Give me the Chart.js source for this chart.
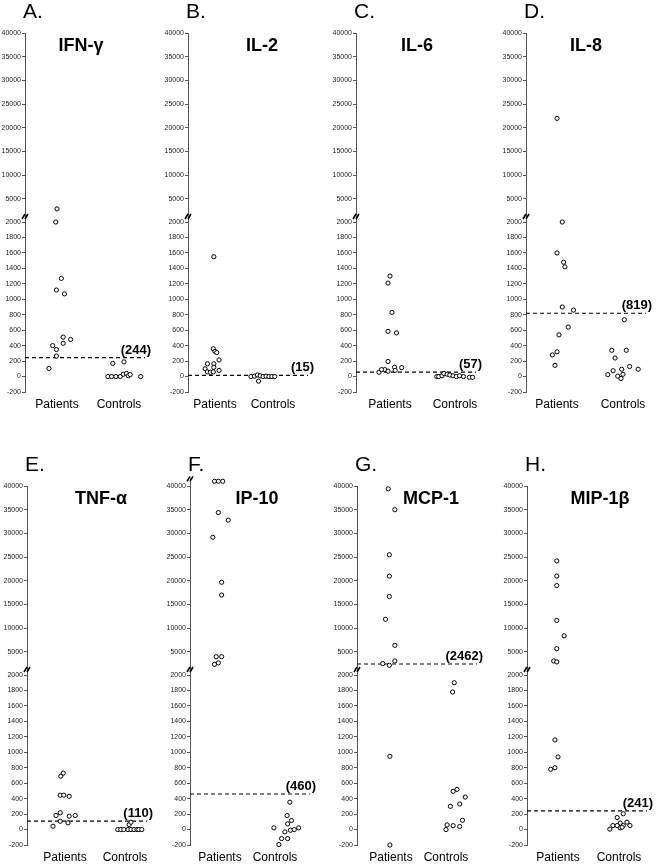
<!DOCTYPE html>
<html><head><meta charset="utf-8">
<script src="https://cdn.jsdelivr.net/npm/chart.js@4.4.0/dist/chart.umd.min.js"></script>
<style>
html,body{margin:0;padding:0;background:#fff;width:661px;height:865px;overflow:hidden;position:relative}
canvas{position:absolute}
</style></head><body>
<script>
// ---------- data ----------
const categories = ['Patients', 'Controls'];
const panelLetters = ['A.', 'B.', 'C.', 'D.', 'E.', 'F.', 'G.', 'H.'];
const cytokines = ['IFN-γ', 'IL-2', 'IL-6', 'IL-8', 'TNF-α', 'IP-10', 'MCP-1', 'MIP-1β'];
const cutoffs = [244, 15, 57, 819, 110, 460, 2462, 241];
const upperTicks = [5000, 10000, 15000, 20000, 25000, 30000, 35000, 40000];
const lowerTicks = [-200, 0, 200, 400, 600, 800, 1000, 1200, 1400, 1600, 1800, 2000];

const ifngPatients  = [2900, 2000, 1270, 1120, 1070, 510, 480, 400, 430, 350, 265, 105];
const ifngPatientsX = [1.00, 0.98, 1.07, 0.99, 1.12, 1.10, 1.22, 0.93, 1.10, 0.99, 0.99, 0.87];
const ifngControls  = [170, 190, 0, 0, 0, 0, 30, 40, 10, 25, 0];
const ifngControlsX = [1.90, 2.08, 1.82, 1.88, 1.95, 2.02, 2.07, 2.12, 2.15, 2.18, 2.35];

const il2Patients  = [1550, 360, 325, 310, 215, 165, 165, 120, 100, 80, 60, 55, 60];
const il2PatientsX = [0.98, 0.97, 1.00, 1.03, 1.07, 0.87, 0.98, 0.98, 0.83, 1.07, 0.87, 0.92, 0.97];
const il2Controls  = [0, 5, 20, 10, 0, 5, 0, 0, 0, -60];
const il2ControlsX = [1.62, 1.68, 1.73, 1.78, 1.83, 1.88, 1.93, 1.98, 2.03, 1.75];

const il6Patients  = [1300, 1210, 830, 585, 565, 195, 90, 55, 90, 70, 120, 80, 115];
const il6PatientsX = [1.00, 0.97, 1.03, 0.97, 1.10, 0.97, 0.92, 0.83, 0.87, 0.97, 1.07, 1.08, 1.18];
const il6Controls  = [0, 0, 10, 40, 30, 20, 10, 0, 10, 0, -10, -10];
const il6ControlsX = [1.72, 1.75, 1.80, 1.83, 1.88, 1.92, 1.97, 2.02, 2.07, 2.13, 2.22, 2.27];

const il8Patients  = [22000, 2000, 1600, 1480, 1420, 900, 860, 640, 540, 320, 280, 145];
const il8PatientsX = [1.00, 1.08, 1.00, 1.10, 1.12, 1.08, 1.25, 1.17, 1.03, 1.00, 0.93, 0.97];
const il8Controls  = [735, 340, 340, 240, 130, 95, 95, 75, 25, 5, 30, -25];
const il8ControlsX = [2.02, 1.83, 2.05, 1.88, 2.10, 2.23, 1.98, 1.85, 1.77, 1.92, 2.00, 1.97];

const tnfPatients  = [730, 690, 445, 445, 430, 217, 182, 173, 182, 108, 87, 43];
const tnfPatientsX = [0.97, 0.93, 0.92, 0.98, 1.07, 0.92, 0.85, 1.07, 1.17, 0.92, 1.05, 0.80];
const tnfControls  = [0, 0, 0, 0, 0, 0, 0, 0, 0, 65, 95];
const tnfControlsX = [1.88, 1.93, 1.98, 2.05, 2.10, 2.15, 2.20, 2.23, 2.28, 2.07, 2.10];

const ip10Patients  = [41000, 41000, 41000, 34400, 32800, 29200, 19700, 17000, 4000, 4000, 2400, 2700];
const ip10PatientsX = [0.90, 0.97, 1.05, 0.97, 1.15, 0.87, 1.03, 1.03, 0.93, 1.03, 0.90, 0.97];
const ip10Controls  = [354, 181, 117, 73, 22, -30, -9, 0, 22, -117, -117, -194];
const ip10ControlsX = [2.27, 2.22, 2.30, 2.23, 1.98, 2.18, 2.28, 2.35, 2.43, 2.12, 2.23, 2.07];

const mcp1Patients  = [39400, 35000, 25500, 21000, 16700, 11900, 6400, 2540, 2190, 3100, 948, -200];
const mcp1PatientsX = [0.95, 1.07, 0.97, 0.97, 0.97, 0.90, 1.07, 0.85, 0.97, 1.07, 0.98, 0.98];
const mcp1Controls  = [1900, 1780, 495, 520, 420, 300, 330, 120, 60, 50, 40, 0];
const mcp1ControlsX = [2.15, 2.12, 2.13, 2.20, 2.35, 2.08, 2.25, 2.30, 2.02, 2.13, 2.25, 2.00];

const mip1bPatients  = [24200, 21000, 19000, 11650, 8400, 5700, 3100, 2900, 1160, 940, 800, 780];
const mip1bPatientsX = [0.98, 0.98, 0.98, 0.98, 1.10, 0.98, 0.93, 0.98, 0.95, 1.00, 0.95, 0.88];
const mip1bControls  = [155, 204, 96, 83, 52, 52, 52, 52, 22, 5, 30];
const mip1bControlsX = [1.97, 2.07, 2.13, 2.02, 1.90, 1.97, 2.18, 2.07, 2.02, 1.85, 2.05];

const panelSeries = [
  [ifngPatients, ifngPatientsX, ifngControls, ifngControlsX],
  [il2Patients, il2PatientsX, il2Controls, il2ControlsX],
  [il6Patients, il6PatientsX, il6Controls, il6ControlsX],
  [il8Patients, il8PatientsX, il8Controls, il8ControlsX],
  [tnfPatients, tnfPatientsX, tnfControls, tnfControlsX],
  [ip10Patients, ip10PatientsX, ip10Controls, ip10ControlsX],
  [mcp1Patients, mcp1PatientsX, mcp1Controls, mcp1ControlsX],
  [mip1bPatients, mip1bPatientsX, mip1bControls, mip1bControlsX]
];

// ---------- layout ----------
const BREAK = 2000;
const AXIS_X = [25, 188, 356, 526, 27, 190, 357, 527];
const ROW_Y = [0, 0, 0, 0, 453, 453, 453, 453];
const CAT_P = [32, 27, 34, 31, 38, 30, 34, 31];   // px from axis to "Patients"
const CAT_C = [94, 85, 99, 97, 98, 85, 89, 92];   // px from axis to "Controls"
const TITLE_DX = [56, 74, 61, 60, 74, 67, 74, 73];
const PLOT_W = 120;
const UP_MIN = 1200, LOW_MIN = -200, LOW_MAX = 2065;
const UP_PX = 184 / 38800, LOW_PX = 175 / 2265;
const FONT = '"Liberation Sans", Arial, sans-serif';

function pts(vals, xs, upper) {
  return vals.map((v, i) => ({x: xs[i], y: v})).filter(p => upper ? p.y > BREAK : p.y <= BREAK);
}

function drawBreak(ctx, x, y) {
  ctx.save();
  ctx.strokeStyle = '#000';
  ctx.lineWidth = 1.6;
  ctx.beginPath();
  ctx.moveTo(x - 3, y + 2); ctx.lineTo(x, y - 3);
  ctx.moveTo(x, y + 2); ctx.lineTo(x + 3, y - 3);
  ctx.stroke();
  ctx.restore();
}

const decor = {
  id: 'decor',
  afterDraw(chart, args, opts) {
    const {ctx, chartArea, scales} = chart;
    const i = opts.index;
    const top40k = scales.yUp.getPixelForValue(upperTicks[upperTicks.length - 1]);
    ctx.save();
    ctx.fillStyle = '#000';
    ctx.font = '21px ' + FONT;
    ctx.textAlign = 'left';
    ctx.textBaseline = 'middle';
    ctx.fillText(panelLetters[i], chartArea.left - 2, top40k - 21);
    ctx.font = 'bold 18px ' + FONT;
    ctx.textAlign = 'center';
    ctx.fillText(cytokines[i], chartArea.left + TITLE_DX[i], top40k + 13);
    drawBreak(ctx, chartArea.left, scales.yLow.top);
    if (opts.overflow) drawBreak(ctx, chartArea.left, chartArea.top + 1);
    const thr = cutoffs[i];
    const ys = thr > BREAK ? scales.yUp : scales.yLow;
    const y = ys.getPixelForValue(thr);
    ctx.font = 'bold 13px ' + FONT;
    ctx.textAlign = 'right';
    ctx.textBaseline = 'bottom';
    ctx.fillText('(' + thr + ')', chartArea.right + 6, y - 1);
    ctx.restore();
  }
};

const ptStyle = {
  type: 'scatter', pointRadius: 2.1, pointHoverRadius: 2.1, pointBorderWidth: 1,
  borderColor: '#000', backgroundColor: '#fff', pointBackgroundColor: '#fff', pointBorderColor: '#000', clip: false
};

function yAxis(min, max, ticks, weight, stackWeight) {
  return {
    type: 'linear', position: 'left', stack: 'y', stackWeight: stackWeight, weight: weight,
    min: min, max: max,
    afterBuildTicks: s => { s.ticks = ticks.map(v => ({value: v})); },
    afterFit: s => { s.width = 25; },
    border: {display: true, color: '#555', width: 1},
    grid: {drawOnChartArea: false, drawTicks: true, tickLength: 3, color: '#555'},
    ticks: {font: {size: 7, family: FONT}, color: '#222', padding: 1, callback: v => String(v), autoSkip: false}
  };
}

for (let i = 0; i < 8; i++) {
  const c = document.createElement('canvas');
  c.width = 165; c.height = 430;
  c.style.left = (AXIS_X[i] - 25) + 'px';
  c.style.top = ROW_Y[i] + 'px';
  c.style.width = '165px'; c.style.height = '430px';
  document.body.appendChild(c);
  const [pv, px, cv, cx] = panelSeries[i];
  const thr = cutoffs[i];
  const dataMax = Math.max(...pv, ...cv);
  const topTick = upperTicks[upperTicks.length - 1];
  const overflow = dataMax > topTick;
  const upMax = overflow ? dataMax + 600 : topTick;
  const extra = (upMax - topTick) * UP_PX;
  const unit = CAT_C[i] - CAT_P[i];
  const xMin = 1 - CAT_P[i] / unit;
  const xMax = xMin + PLOT_W / unit;
  new Chart(c, {
    type: 'scatter',
    data: {
      datasets: [
        Object.assign({label: categories[0], data: pts(pv, px, true), yAxisID: 'yUp'}, ptStyle),
        Object.assign({label: categories[0], data: pts(pv, px, false), yAxisID: 'yLow'}, ptStyle),
        Object.assign({label: categories[1], data: pts(cv, cx, true), yAxisID: 'yUp'}, ptStyle),
        Object.assign({label: categories[1], data: pts(cv, cx, false), yAxisID: 'yLow'}, ptStyle),
        {type: 'line', label: 'cutoff', data: [{x: xMin, y: thr}, {x: xMax, y: thr}],
         yAxisID: thr > BREAK ? 'yUp' : 'yLow', borderColor: '#000', borderWidth: 1.2,
         borderDash: [4, 3], pointRadius: 0, fill: false}
      ]
    },
    options: {
      responsive: false, animation: false, devicePixelRatio: 1, events: [],
      layout: {padding: {top: 33 - extra, left: 0, right: 165 - 25 - PLOT_W, bottom: 8}},
      plugins: {legend: {display: false}, tooltip: {enabled: false}, decor: {index: i, overflow: overflow}},
      scales: {
        x: {
          type: 'linear', min: xMin, max: xMax,
          border: {display: false}, grid: {display: false, drawTicks: false},
          afterBuildTicks: s => { s.ticks = categories.map((_, k) => ({value: k + 1})); },
          afterFit: s => { s.height = 30; },
          ticks: {callback: (v, k) => categories[k], font: {size: 12, family: FONT}, color: '#000',
                  padding: 5, maxRotation: 0, autoSkip: false}
        },
        yLow: yAxis(LOW_MIN, LOW_MAX, lowerTicks, 1, (LOW_MAX - LOW_MIN) * LOW_PX),
        yUp: yAxis(UP_MIN, upMax, upperTicks, 2, (upMax - UP_MIN) * UP_PX)
      }
    },
    plugins: [decor]
  });
}
</script>
</body></html>
